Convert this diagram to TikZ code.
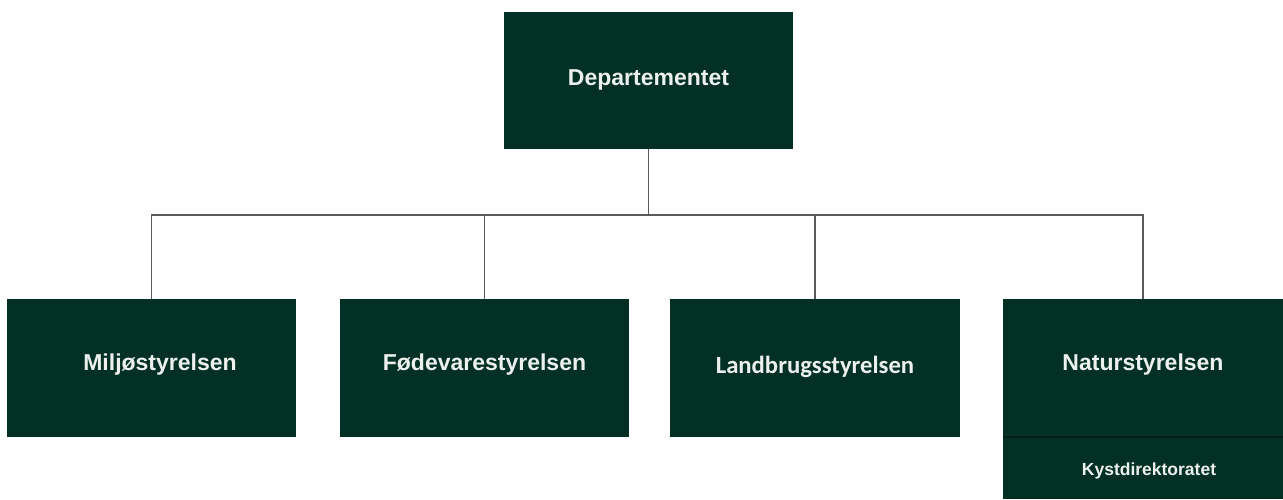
\documentclass[tikz,border=0pt]{standalone}
\usepackage{fontspec}
\setmainfont{Liberation Sans}
\newfontfamily\calfont{Carlito}
\definecolor{boxgreen}{RGB}{3,48,36}
\definecolor{sepgreen}{RGB}{1,30,22}
\definecolor{boxtext}{RGB}{236,241,238}
\definecolor{linegrey}{RGB}{90,90,90}
\begin{document}
\begin{tikzpicture}[x=1pt,y=-1pt,
  orgbox/.style={rectangle, fill=boxgreen, inner sep=0pt},
  boxlabel/.style={text=boxtext, inner sep=0pt, font=\fontsize{23}{27}\selectfont\bfseries},
  conn/.style={draw=linegrey, line width=1.4pt}]
\useasboundingbox[fill=white] (0,0) rectangle (1283,499);
% boxes
\node[orgbox, minimum width=289pt, minimum height=137pt] (dep) at (648.5,80.5) {};
\node[boxlabel] (deplabel) at (648.5,80) {Departementet};
\node[orgbox, minimum width=289pt, minimum height=138pt] (mil) at (151.5,368) {};
\node[boxlabel] (millabel) at (160,365) {Miljøstyrelsen};
\node[orgbox, minimum width=289pt, minimum height=138pt] (foe) at (484.5,368) {};
\node[boxlabel] (foelabel) at (484.5,365) {Fødevarestyrelsen};
\node[orgbox, minimum width=290pt, minimum height=138pt] (lan) at (815,368) {};
\node[boxlabel, font=\calfont\fontsize{24.7}{28}\selectfont\bfseries] (lanlabel) at (815,367) {Landbrugsstyrelsen};
\node[orgbox, minimum width=280pt, minimum height=138pt] (nat) at (1143,368) {};
\node[boxlabel] (natlabel) at (1143,365) {Naturstyrelsen};
\node[orgbox, minimum width=280pt, minimum height=62pt] (kys) at (1143,468) {};
\node[boxlabel, font=\fontsize{17.5}{21}\selectfont\bfseries] (kyslabel) at (1149,471) {Kystdirektoratet};
\draw[sepgreen, line width=1.5pt] (kys.north west) -- (kys.north east);
% connectors
\coordinate (bus) at (648.5,215);
\draw[conn] (dep.south) -- (dep.south |- bus);
\draw[conn] (mil.north) |- (bus -| nat.north) -- (nat.north);
\draw[conn] (foe.north) -- (foe.north |- bus);
\draw[conn] (lan.north) -- (lan.north |- bus);
\end{tikzpicture}
\end{document}
